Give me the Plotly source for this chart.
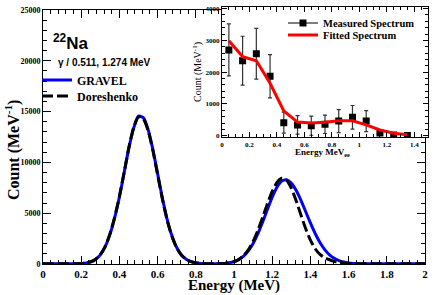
import plotly.graph_objects as go

W, H = 436, 295

# ---------------- main spectrum data ----------------
energy = [0.000, 0.025, 0.050, 0.075, 0.100, 0.125, 0.150, 0.175, 0.200, 0.225,
          0.250, 0.275, 0.300, 0.325, 0.350, 0.375, 0.400, 0.425, 0.450, 0.475,
          0.500, 0.525, 0.550, 0.575, 0.600, 0.625, 0.650, 0.675, 0.700, 0.725,
          0.750, 0.775, 0.800, 0.825, 0.850, 0.875, 0.900, 0.925, 0.950, 0.975,
          1.000, 1.025, 1.050, 1.075, 1.100, 1.125, 1.150, 1.175, 1.200, 1.225,
          1.250, 1.275, 1.300, 1.325, 1.350, 1.375, 1.400, 1.425, 1.450, 1.475,
          1.500, 1.525, 1.550, 1.575, 1.600, 1.625, 1.650, 1.675, 1.700, 1.725,
          1.750, 1.775, 1.800, 1.825, 1.850, 1.875, 1.900, 1.925, 1.950, 1.975,
          2.000]

gravel = [30, 30, 30, 30, 30, 30, 30, 30, 40, 90,
          210, 450, 900, 1680, 2900, 4550, 6600, 9000, 11450, 13400,
          14550, 14400, 13250, 11300, 8900, 6500, 4400, 2780, 1620, 880,
          460, 230, 115, 60, 35, 30, 30, 40, 60, 115,
          230, 430, 770, 1290, 2020, 2980, 4130, 5380, 6580, 7560,
          8160, 8290, 7960, 7260, 6290, 5170, 4040, 3000, 2110, 1410,
          900, 560, 330, 190, 105, 60, 40, 30, 25, 22,
          20, 20, 20, 20, 20, 20, 20, 20, 20, 20,
          20]

doreshenko = [30, 30, 30, 30, 30, 30, 30, 30, 45, 95,
              220, 470, 920, 1700, 2920, 4580, 6650, 9050, 11500, 13450,
              14500, 14300, 13150, 11200, 8800, 6400, 4320, 2720, 1580, 860,
              450, 225, 110, 55, 35, 30, 30, 30, 50, 110,
              230, 450, 820, 1400, 2230, 3310, 4580, 5920, 7140, 8030,
              8440, 8250, 7460, 6250, 4850, 3500, 2350, 1500, 950, 620,
              420, 260, 150, 80, 45, 30, 25, 25, 25, 25,
              25, 25, 25, 25, 25, 25, 25, 25, 25, 25,
              25]

# ---------------- inset data ----------------
inset_energy = [0.05, 0.15, 0.25, 0.35, 0.45, 0.55, 0.65, 0.75, 0.85, 0.95, 1.05, 1.15, 1.25, 1.35]
measured = [2700, 2360, 2580, 1870, 410, 340, 315, 360, 460, 580, 460, 85, 20, 10]
measured_err = [820, 770, 800, 680, 330, 290, 300, 290, 360, 370, 330, 40, 20, 10]
fitted = [2990, 2490, 2360, 1650, 780, 430, 400, 420, 470, 470, 340, 180, 75, 30]

main_tick_vals_x = [0, 0.2, 0.4, 0.6, 0.8, 1, 1.2, 1.4, 1.6, 1.8, 2]

SERIF = "Liberation Serif"
SANS = "Liberation Sans"

def px(x):
    return x / W

def py(y):
    return 1 - y / H

fig = go.Figure()

fig.add_trace(go.Scatter(x=energy, y=gravel, mode="lines", name="GRAVEL",
                         line=dict(color="#0000ff", width=3, shape="spline", smoothing=0.6),
                         xaxis="x", yaxis="y", legend="legend"))
fig.add_trace(go.Scatter(x=energy, y=doreshenko, mode="lines", name="Doreshenko",
                         line=dict(color="black", width=3, dash="11px,4px", shape="spline", smoothing=0.6),
                         xaxis="x", yaxis="y", legend="legend2"))

# inset
fig.add_trace(go.Scatter(x=inset_energy, y=measured, mode="markers", name="Measured Spectrum",
                         showlegend=False,
                         marker=dict(symbol="square", size=7, color="black"),
                         error_y=dict(type="data", array=measured_err, color="#333333",
                                      thickness=1.2, width=2),
                         xaxis="x2", yaxis="y2"))
fig.add_trace(go.Scatter(x=[None], y=[None], mode="lines+markers", name="Measured Spectrum",
                         line=dict(color="black", width=1),
                         marker=dict(symbol="square", size=7, color="black"),
                         xaxis="x2", yaxis="y2", legend="legend3"))
fig.add_trace(go.Scatter(x=inset_energy, y=fitted, mode="lines", name="Fitted Spectrum",
                         line=dict(color="#ff0000", width=3),
                         xaxis="x2", yaxis="y2", legend="legend4"))

axis_common = dict(showline=True, linecolor="black", linewidth=1, mirror="allticks",
                   ticks="inside", tickcolor="black", showgrid=False, zeroline=False,
                   automargin=False)

def leg(x, y, size):
    return dict(x=px(x), y=py(y), xanchor="left", yanchor="middle",
                bgcolor="rgba(0,0,0,0)", borderwidth=0,
                font=dict(family=SERIF, size=size, color="black", weight="bold"))

fig.update_layout(
    template="none",
    width=W, height=H,
    margin=dict(l=0, r=0, t=0, b=0, autoexpand=False),
    paper_bgcolor="white", plot_bgcolor="white",
    xaxis=dict(domain=[px(43), px(425)], range=[0, 2], anchor="y",
               tickvals=main_tick_vals_x, ticklen=8, tickwidth=1,
               minor=dict(dtick=0.04, tick0=0, ticklen=4, ticks="inside", tickcolor="black"),
               tickfont=dict(family=SERIF, size=11, color="black", weight="bold"),
               **axis_common),
    yaxis=dict(domain=[py(264), py(10)], range=[0, 25000], anchor="x",
               dtick=5000, tick0=0, tickformat="d", ticklen=8, tickwidth=1,
               minor=dict(dtick=1000, tick0=0, ticklen=4, ticks="inside", tickcolor="black"),
               tickfont=dict(family=SERIF, size=8, color="black", weight="bold"),
               **axis_common),
    xaxis2=dict(domain=[px(222), px(428)], range=[0, 1.5], anchor="y2",
                dtick=0.2, tick0=0, ticklen=5, tickwidth=1,
                minor=dict(dtick=0.05, tick0=0, ticklen=3, ticks="inside", tickcolor="black"),
                tickfont=dict(family=SERIF, size=7, color="black", weight="bold"),
                **axis_common),
    yaxis2=dict(domain=[py(137.3), py(7)], range=[-50, 4050], anchor="x2",
                dtick=1000, tick0=0, tickformat="d", ticklen=5, tickwidth=1,
                minor=dict(dtick=200, tick0=0, ticklen=3, ticks="inside", tickcolor="black"),
                tickfont=dict(family=SERIF, size=7, color="black", weight="bold"),
                **axis_common),
    legend=leg(37, 80, 12),
    legend2=leg(37, 96, 12),
    legend3=leg(283, 23, 10.5),
    legend4=leg(283, 35, 10.5),
    annotations=[
        dict(text="<sup>22</sup>Na", x=px(51), y=py(42), xref="paper", yref="paper",
             xanchor="left", yanchor="middle", showarrow=False,
             font=dict(family=SANS, size=17, color="black", weight="bold")),
        dict(text="γ / 0.511, 1.274 MeV", x=px(56), y=py(63), xref="paper", yref="paper",
             xanchor="left", yanchor="middle", showarrow=False,
             font=dict(family=SANS, size=10, color="black", weight="bold")),
        dict(text="Energy (MeV)", x=px(234), y=py(285), xref="paper", yref="paper",
             xanchor="center", yanchor="middle", showarrow=False,
             font=dict(family=SERIF, size=15, color="black", weight="bold")),
        dict(text="Count (MeV<sup>-1</sup>)", x=px(12), y=py(150), xref="paper", yref="paper",
             xanchor="center", yanchor="middle", showarrow=False, textangle=-90,
             font=dict(family=SERIF, size=16, color="black", weight="bold")),
        dict(text="Energy MeV<sub>ee</sub>", x=px(322), y=py(152), xref="paper", yref="paper",
             xanchor="center", yanchor="middle", showarrow=False,
             font=dict(family=SERIF, size=9, color="black", weight="bold")),
        dict(text="Count (MeV<sup>-1</sup>)", x=px(197), y=py(72), xref="paper", yref="paper",
             xanchor="center", yanchor="middle", showarrow=False, textangle=-90,
             font=dict(family=SERIF, size=10, color="black")),
    ],
)

fig.write_html("out.html", config={"displayModeBar": False},
               post_script="document.body.style.margin='0px';document.body.style.overflow='hidden';")
